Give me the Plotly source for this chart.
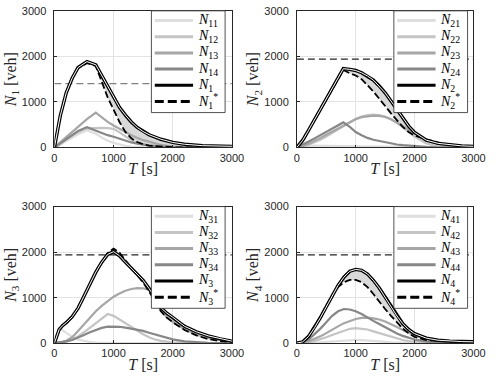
import plotly.graph_objects as go
from plotly.subplots import make_subplots

# time grids [s]
T1 = [0, 100, 200, 300, 400, 550, 700, 800, 900, 1000, 1100, 1200, 1300, 1400,
      1500, 1600, 1800, 2000, 2200, 2500, 3000]
T2 = [0, 100, 200, 300, 400, 500, 600, 700, 790, 900, 1000, 1100, 1200, 1300,
      1400, 1500, 1600, 1700, 1800, 1900, 2000, 2200, 2400, 2600, 2800, 3000]
T3 = [0, 80, 140, 200, 300, 400, 500, 600, 700, 800, 900, 1000, 1100, 1200,
      1300, 1400, 1500, 1600, 1700, 1800, 1900, 2000, 2200, 2400, 2600, 2800, 3000]
T4 = [0, 100, 200, 300, 400, 500, 600, 700, 800, 900, 1000, 1100, 1200, 1300,
      1400, 1500, 1600, 1700, 1800, 1900, 2000, 2200, 2400, 2600, 2800, 3000]

# region 1 [veh]
N11 = [0, 60, 140, 220, 290, 380, 300, 220, 150, 100, 60, 35, 20, 10, 5, 0, 0, 0, 0, 0, 0]
N12 = [0, 80, 180, 270, 340, 420, 430, 430, 425, 410, 330, 240, 160, 100, 60, 35, 15, 5, 0, 0, 0]
N13 = [0, 110, 230, 350, 460, 620, 766, 660, 560, 483, 410, 340, 270, 210, 160, 128, 55, 20, 5, 0, 0]
N14 = [0, 90, 190, 280, 360, 447, 370, 320, 270, 234, 190, 150, 110, 85, 60, 45, 20, 8, 3, 0, 0]
N1 = [0, 700, 1200, 1520, 1755, 1885, 1815, 1580, 1320, 1090, 880, 710, 560, 440,
      350, 280, 180, 110, 70, 40, 25]
N1s = [0, 690, 1190, 1510, 1745, 1850, 1790, 1450, 1100, 830, 560, 340, 200, 120,
       70, 40, 15, 5, 0, 0, 0]

# region 2
N21 = [0, 20, 35, 40, 40, 40, 38, 35, 32, 30, 28, 25, 22, 20, 18, 15, 12, 10, 8, 5, 3, 0, 0, 0, 0, 0]
N22 = [0, 20, 60, 110, 170, 240, 320, 400, 470, 560, 630, 680, 710, 720, 710, 680, 620,
       540, 440, 340, 240, 90, 20, 5, 0, 0]
N23 = [0, 30, 80, 140, 210, 280, 350, 420, 480, 560, 620, 665, 690, 700, 695, 670, 620,
       550, 470, 390, 310, 170, 80, 30, 10, 5]
N24 = [0, 60, 130, 200, 270, 340, 410, 480, 550, 450, 340, 270, 210, 170, 140, 110, 85,
       65, 50, 38, 28, 12, 5, 0, 0, 0]
N2 = [0, 160, 380, 610, 830, 1060, 1280, 1510, 1730, 1715, 1690, 1640, 1570, 1480, 1350,
      1200, 1020, 830, 640, 470, 330, 160, 90, 55, 35, 25]
N2s = [0, 150, 370, 600, 820, 1050, 1270, 1490, 1700, 1630, 1580, 1500, 1370, 1230, 1070,
       900, 750, 600, 450, 340, 260, 180, 110, 65, 35, 20]

# region 3
N31 = [0, 330, 280, 220, 140, 80, 45, 25, 12, 5, 0, 0, 0, 0, 0, 0, 0, 0, 0, 0, 0, 0, 0, 0, 0, 0, 0]
N32 = [0, 10, 20, 35, 80, 150, 240, 340, 450, 560, 640, 600, 520, 430, 350, 270, 195,
       130, 80, 50, 30, 18, 5, 0, 0, 0, 0]
N33 = [0, 15, 30, 55, 130, 270, 420, 560, 700, 820, 930, 1020, 1090, 1150, 1190, 1210,
       1205, 1170, 1050, 720, 570, 470, 310, 190, 110, 65, 35]
N34 = [0, 10, 25, 40, 70, 120, 180, 240, 290, 335, 365, 370, 360, 340, 320, 300, 270,
       230, 190, 150, 115, 85, 40, 15, 5, 0, 0]
N3 = [0, 300, 390, 450, 580, 770, 1030, 1300, 1560, 1780, 1950, 2010, 1920, 1780, 1650,
      1530, 1380, 1200, 990, 780, 660, 570, 370, 250, 160, 95, 45]
N3s = [0, 290, 380, 440, 570, 760, 1020, 1290, 1550, 1770, 1980, 2075, 1990, 1820, 1660,
       1500, 1330, 1140, 920, 700, 560, 460, 290, 170, 90, 45, 25]

# region 4
N41 = [0, 2, 5, 10, 20, 30, 40, 50, 60, 66, 70, 66, 60, 50, 40, 30, 20, 15, 10, 7, 5, 2, 0, 0, 0, 0]
N42 = [0, 5, 20, 45, 80, 130, 180, 230, 280, 315, 330, 320, 300, 260, 220, 180, 140,
       100, 70, 45, 30, 10, 3, 0, 0, 0]
N43 = [0, 10, 40, 90, 150, 220, 300, 370, 440, 490, 530, 555, 560, 545, 520, 475, 420,
       355, 290, 230, 170, 90, 40, 20, 12, 8]
N44 = [0, 20, 80, 190, 320, 460, 600, 700, 750, 740, 700, 640, 560, 490, 420, 350, 280,
       215, 160, 115, 80, 35, 15, 5, 0, 0]
N4 = [0, 30, 150, 340, 560, 800, 1050, 1270, 1450, 1580, 1620, 1600, 1520, 1380, 1210,
      1010, 800, 600, 430, 300, 210, 110, 65, 45, 35, 30]
N4s = [0, 30, 160, 360, 590, 830, 1060, 1230, 1340, 1390, 1390, 1340, 1230, 1080, 910,
       750, 600, 450, 320, 215, 140, 70, 45, 35, 28, 22]

# critical accumulations (horizontal dashed lines)
N_crit = [1400, 1940, 1940, 1940]

part_colors = ["#dedede", "#c4c4c4", "#a6a6a6", "#878787"]
serif = "Liberation Serif"
sans = "Liberation Sans"
ink = "#262626"
W, H = 498, 386

panels = [
    (T1, [N11, N12, N13, N14], N1, N1s, "#808080"),
    (T2, [N21, N22, N23, N24], N2, N2s, ink),
    (T3, [N31, N32, N33, N34], N3, N3s, ink),
    (T4, [N41, N42, N43, N44], N4, N4s, ink),
]

fig = make_subplots(rows=2, cols=2)

for k, (t, parts, tot, ref, cap_color) in enumerate(panels):
    i = k + 1
    row, col = k // 2 + 1, k % 2 + 1

    # shaded gap between N and N*
    fig.add_trace(go.Scatter(x=t, y=ref, mode="lines", line=dict(width=0),
                             hoverinfo="skip"), row=row, col=col)
    fig.add_trace(go.Scatter(x=t, y=tot, mode="lines", line=dict(width=0),
                             fill="tonexty", fillcolor="#d9d9d9",
                             hoverinfo="skip"), row=row, col=col)

    for j, p in enumerate(parts):
        fig.add_trace(go.Scatter(x=t, y=p, mode="lines",
                                 line=dict(color=part_colors[j], width=2.2),
                                 name="N%d%d" % (i, j + 1)), row=row, col=col)

    fig.add_trace(go.Scatter(x=[0, 3000], y=[N_crit[k], N_crit[k]], mode="lines",
                             line=dict(color=cap_color, width=1.3, dash="7px,4px")),
                  row=row, col=col)

    fig.add_trace(go.Scatter(x=t, y=ref, mode="lines", name="N%d*" % i,
                             line=dict(color="black", width=1.8, dash="7px,3px")),
                  row=row, col=col)
    fig.add_trace(go.Scatter(x=t, y=tot, mode="lines", name="N%d" % i,
                             line=dict(color="black", width=3.4)), row=row, col=col)
    fig.add_trace(go.Scatter(x=t, y=tot, mode="lines",
                             line=dict(color="white", width=1.0),
                             hoverinfo="skip"), row=row, col=col)

    fig.update_xaxes(title_text="<i>T</i> [s]", row=row, col=col)
    fig.update_yaxes(title_text="<i>N</i><sub>%d</sub> [veh]" % i, row=row, col=col)

axis_style = dict(range=[0, 3000], tickvals=[0, 1000, 2000, 3000], showgrid=True,
                  gridcolor="#e3e3e3", gridwidth=1, zeroline=False, showline=True,
                  linecolor=ink, linewidth=0.8, mirror=True, ticks="inside",
                  ticklen=3, tickcolor=ink, tickfont=dict(family=sans, size=11, color=ink),
                  title_font=dict(family=serif, size=16, color=ink))
fig.update_xaxes(**axis_style, title_standoff=0)
fig.update_yaxes(**axis_style, title_standoff=1, ticklabelstandoff=5)

xdom = [[53 / W, 236 / W], [303 / W, 485 / W]]
ydom = [[1 - 146 / H, 1 - 5 / H], [1 - 348 / H, 1 - 207 / H]]
for k in range(4):
    r, c = k // 2, k % 2
    sfx = "" if k == 0 else str(k + 1)
    fig.layout["xaxis" + sfx].domain = xdom[c]
    fig.layout["yaxis" + sfx].domain = ydom[r]

# boxed legends in the top-right corner of each panel (pixel layout)
box_left = [153, 403, 153, 403]
box_top = [5, 5, 207, 207]
box_w, box_h, row_h = 76, 105, 16.7
shapes, notes = [], []
for k in range(4):
    i = k + 1
    x0, y0 = box_left[k], box_top[k]
    shapes.append(dict(type="rect", xref="paper", yref="paper",
                       x0=x0 / W, x1=(x0 + box_w) / W, y0=1 - y0 / H, y1=1 - (y0 + box_h) / H,
                       fillcolor="white", line=dict(color=ink, width=0.8)))
    labels = ["<i>N</i><sub>%d%d</sub>" % (i, j + 1) for j in range(4)]
    labels += ["<i>N</i><sub>%d</sub>" % i, "<i>N</i><sub>%d</sub><sup>*</sup>" % i]
    styles = [dict(color=c, width=3) for c in part_colors]
    styles += [dict(color="black", width=3), dict(color="black", width=3, dash="9px,4px")]
    for j in range(6):
        yy = 1 - (y0 + 10 + row_h * j) / H
        shapes.append(dict(type="line", xref="paper", yref="paper",
                           x0=(x0 + 3.5) / W, x1=(x0 + 43) / W, y0=yy, y1=yy,
                           line=styles[j]))
        notes.append(dict(xref="paper", yref="paper", x=(x0 + 46) / W, y=yy,
                          text=labels[j], showarrow=False, xanchor="left",
                          yanchor="middle", font=dict(family=serif, size=14, color="black")))

fig.update_layout(width=W, height=H, margin=dict(l=0, r=0, t=0, b=0),
                  paper_bgcolor="white", plot_bgcolor="white", showlegend=False,
                  shapes=shapes, annotations=notes)

fig.write_html("out.html", config={"displayModeBar": False},
               post_script="document.body.style.margin='0';")
